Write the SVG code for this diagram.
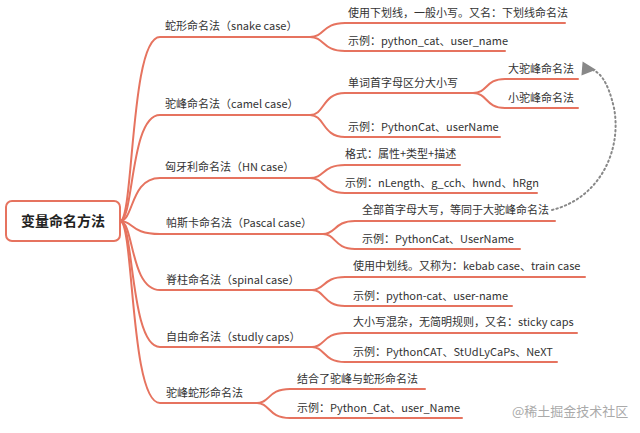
<svg xmlns="http://www.w3.org/2000/svg" width="640" height="433" viewBox="0 0 640 433">
<style>
.l{fill:none;stroke:#e6735f;stroke-width:2;stroke-linecap:round}
text{font-family:"Noto Sans CJK SC","Noto Sans",sans-serif;font-size:11px;fill:#333}
.r{font-size:14px;font-weight:bold;fill:#222}
</style>
<defs><marker id="a" markerWidth="8" markerHeight="8" refX="4" refY="4" orient="auto"><path d="M7,0.5 L0,4 L7,7.5 Z" fill="#888"/></marker></defs>
<rect width="640" height="433" fill="#fff"/>
<g id="connectors">
<path class="l" d="M120,221 C134,221 130,37 160,37 L310,37"/>
<path class="l" d="M120,221 C134,221 130,115 160,115 L310,115"/>
<path class="l" d="M120,221 C134,221 130,178 160,178 L310,178"/>
<path class="l" d="M120,221 C134,221 130,234 160,234 L323,234"/>
<path class="l" d="M120,221 C134,221 130,290 160,290 L312,290"/>
<path class="l" d="M120,221 C134,221 130,347 160,347 L312,347"/>
<path class="l" d="M120,221 C134,221 130,403 160,403 L257,403"/>
<path class="l" d="M310,37 C325,37 322,23 345,23 L565,23 M310,37 C325,37 322,51 345,51 L505,51"/>
<path class="l" d="M310,115 C325,115 322,93 345,93 L473,93 M310,115 C325,115 322,137 345,137 L500,137"/>
<path class="l" d="M473,93 C488,93 485,79 505,79 L578,79 M473,93 C488,93 485,108 505,108 L578,108"/>
<path class="l" d="M310,178 C325,178 322,165 345,165 L460,165 M310,178 C325,178 322,193 345,193 L537,193"/>
<path class="l" d="M323,234 C336,234 334,221 355,221 L555,221 M323,234 C336,234 334,249 355,249 L520,249"/>
<path class="l" d="M312,290 C325,290 323,277 345,277 L585,277 M312,290 C325,290 323,306 345,306 L512,306"/>
<path class="l" d="M312,347 C325,347 323,333 345,333 L577,333 M312,347 C325,347 323,362 345,362 L557,362"/>
<path class="l" d="M257,403 C270,403 268,389 290,389 L425,389 M257,403 C270,403 268,418 290,418 L462,418"/>
<path d="M552,210 C600,198 622,150 614,108 C608,82 600,70 588,69" fill="none" stroke="#888" stroke-width="2" stroke-dasharray="1.5,3" stroke-linecap="round" marker-end="url(#a)"/>
</g>
<g id="root"><rect x="6" y="201" width="114" height="40" rx="6" fill="#fff" stroke="#e6735f" stroke-width="2"/><text class="r" x="63" y="226" text-anchor="middle">变量命名方法</text></g>
<g id="n1"><text x="165" y="30">蛇形命名法（snake case）</text></g>
<g id="n2"><text x="165" y="108">驼峰命名法（camel case）</text></g>
<g id="n3"><text x="165" y="171">匈牙利命名法（HN case）</text></g>
<g id="n4"><text x="166" y="227">帕斯卡命名法（Pascal case）</text></g>
<g id="n5"><text x="166" y="284">脊柱命名法（spinal case）</text></g>
<g id="n6"><text x="166" y="341">自由命名法（studly caps）</text></g>
<g id="n7"><text x="166" y="397">驼峰蛇形命名法</text></g>
<g id="s1"><text x="348" y="17">使用下划线，一般小写。又名：下划线命名法</text></g>
<g id="s2"><text x="348" y="45">示例：python_cat、user_name</text></g>
<g id="s3"><text x="348" y="87">单词首字母区分大小写</text></g>
<g id="s4"><text x="508" y="73">大驼峰命名法</text></g>
<g id="s5"><text x="508" y="102">小驼峰命名法</text></g>
<g id="s6"><text x="348" y="131">示例：PythonCat、userName</text></g>
<g id="s7"><text x="345" y="158">格式：属性+类型+描述</text></g>
<g id="s8"><text x="345" y="187">示例：nLength、g_cch、hwnd、hRgn</text></g>
<g id="s9"><text x="362" y="214">全部首字母大写，等同于大驼峰命名法</text></g>
<g id="s10"><text x="362" y="243">示例：PythonCat、UserName</text></g>
<g id="s11"><text x="353" y="270">使用中划线。又称为：kebab case、train case</text></g>
<g id="s12"><text x="353" y="300">示例：python-cat、user-name</text></g>
<g id="s13"><text x="353" y="326">大小写混杂，无简明规则，又名：sticky caps</text></g>
<g id="s14"><text x="353" y="356">示例：PythonCAT、StUdLyCaPs、NeXT</text></g>
<g id="s15"><text x="297" y="383">结合了驼峰与蛇形命名法</text></g>
<g id="s16"><text x="297" y="412">示例：Python_Cat、user_Name</text></g>
<text x="512" y="416" style="font-size:13px;fill:#aaa">@稀土掘金技术社区</text>
</svg>
